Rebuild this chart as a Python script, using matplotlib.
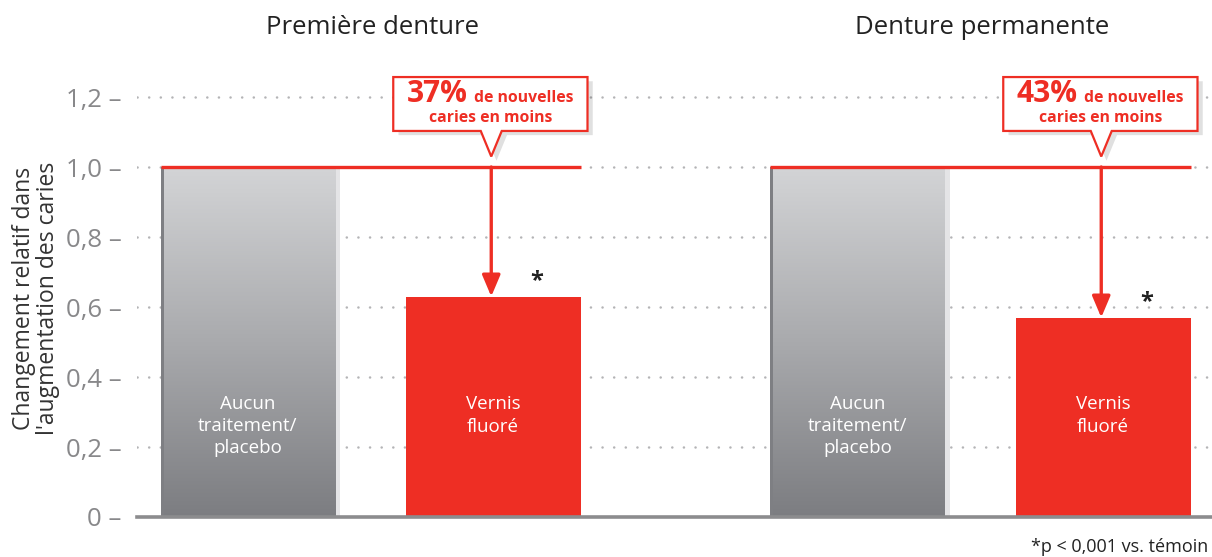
import numpy as np
import matplotlib
matplotlib.use("Agg")
import matplotlib.pyplot as plt
from matplotlib.patches import Polygon, Rectangle
from matplotlib.colors import LinearSegmentedColormap

# ---- data ----
groups = ["Première denture", "Denture permanente"]
control_values = [1.0, 1.0]
varnish_values = [0.63, 0.57]
reductions = ["37%", "43%"]
control_label = "Aucun\ntraitement/\nplacebo"
varnish_label = "Vernis\nfluoré"
yticks = [0, 0.2, 0.4, 0.6, 0.8, 1.0, 1.2]
ytick_labels = ["0 –", "0,2 –", "0,4 –", "0,6 –", "0,8 –", "1,0 –", "1,2 –"]
ylabel = "Changement relatif dans\nl'augmentation des caries"
footnote = "*p < 0,001 vs. témoin"

RED = "#ee2e24"
GRAY_TXT = "#88888a"
plt.rcParams['font.family'] = ['Open Sans', 'DejaVu Sans']

W, H = 1212, 557
fig = plt.figure(figsize=(W / 100, H / 100), dpi=100)
ax_left_px, ax_right_px = 137, 1212
y0_px, ytop_px = 517, 62
ax = fig.add_axes([ax_left_px / W, (H - y0_px) / H, (ax_right_px - ax_left_px) / W, (y0_px - ytop_px) / H])
ymax = (y0_px - ytop_px) / 350.0
ax.set_ylim(0, ymax)
bw = 1.0
ax.set_xlim((137 - 248) / 175, (1212 - 248) / 175)
for s in ax.spines.values():
    s.set_visible(False)
ax.set_xticks([])
ax.set_yticks(yticks)
ax.set_yticklabels(ytick_labels, fontsize=18.5, color=GRAY_TXT)
ax.tick_params(axis='y', length=0, pad=11)

# gridlines (dotted)
for yt in yticks[1:]:
    ax.axhline(yt, color="#b4b4b6", lw=1.8, linestyle=(0, (0.05, 4.6)), dash_capstyle='round', zorder=0)

group_spacing = 610 / 175
red_offset = 245 / 175

grad = np.linspace(0, 1, 256).reshape(-1, 1)
gcmap = LinearSegmentedColormap.from_list("g", ["#7c7d81", "#a9aaad", "#d3d4d6"])

for g, name in enumerate(groups):
    xc = g * group_spacing
    xr = xc + red_offset
    cv = control_values[g]
    vv = varnish_values[g]
    # gray bar with light edge strip on right
    ax.add_patch(Rectangle((xc - bw / 2, 0), bw + 5 / 175, cv, color="#e4e4e6", zorder=1, lw=0))
    ax.imshow(grad, extent=(xc - bw / 2, xc + bw / 2, 0, cv), cmap=gcmap, aspect='auto', origin='lower', zorder=2)
    ax.add_patch(Rectangle((xc - bw / 2, 0), 3 / 175, cv, color="#7e7f83", zorder=3, lw=0))
    ax.text(xc, 0.26, control_label, ha='center', va='center', color='white', fontsize=13.5, linespacing=1.3, zorder=4)
    # red bar
    ax.bar(xr, vv, width=bw, color=RED, zorder=2, lw=0)
    ax.text(xr, 0.29, varnish_label, ha='center', va='center', color='white', fontsize=13.5, linespacing=1.3, zorder=4)
    ax.text(xr + 0.25, vv + 0.01, "*", ha='center', va='bottom', fontsize=17, fontweight='bold', color="#222222", zorder=4)
    # reference line at 1.0
    ax.plot([xc - bw / 2, xr + bw / 2], [cv, cv], color=RED, lw=2.4, zorder=5, solid_capstyle='butt')
    # arrow
    ax.annotate("", xy=(xr - 0.01, vv), xytext=(xr - 0.01, cv),
                arrowprops=dict(arrowstyle="-|>,head_length=1.3,head_width=0.55", color=RED, lw=2.4,
                                shrinkA=0, shrinkB=0), zorder=5)
    # callout box
    bx0 = xr - 0.57
    bx1 = xr + 0.54
    by0, by1 = 1.103, 1.257
    tip_x = xr - 0.01
    tip_y = 1.03
    pw = 0.06
    pts = [(bx0, by1), (bx1, by1), (bx1, by0), (tip_x + pw, by0), (tip_x, tip_y), (tip_x - pw, by0), (bx0, by0)]
    shadow = [(x + 0.03, y - 0.012) for x, y in pts]
    ax.add_patch(Polygon(shadow, closed=True, facecolor="#000000", alpha=0.12, lw=0, zorder=6))
    ax.add_patch(Polygon(pts, closed=True, facecolor="white", edgecolor=RED, lw=1.6, zorder=7, joinstyle='miter'))
    ax.text(xr - 0.495, 1.208, reductions[g], ha='left', va='center', fontsize=21.5, fontweight='bold', color=RED, zorder=8)
    ax.text(xr - 0.11, 1.198, "de nouvelles", ha='left', va='center', fontsize=11.3, fontweight='bold', color=RED, zorder=8)
    ax.text(xr - 0.015, 1.14, "caries en moins", ha='center', va='center', fontsize=11.3, fontweight='bold', color=RED, zorder=8)
    # group title
    fig.text(((xc + red_offset / 2) * 175 + 248 + 2) / W, 1 - 27 / H, name, ha='center', va='center', fontsize=18.5, color="#222222")

# baseline
ax.axhline(0, color="#8c8c8e", lw=2.6, zorder=6, clip_on=False)

ax.set_ylabel(ylabel, fontsize=16.5, color="#333333", linespacing=1.0)
ax.yaxis.set_label_coords(-0.0716, 0.48)

fig.text(1208 / W, 1 - 547 / H, footnote, ha='right', va='center', fontsize=13, color="#222222")

fig.savefig("out.png", dpi=100)
